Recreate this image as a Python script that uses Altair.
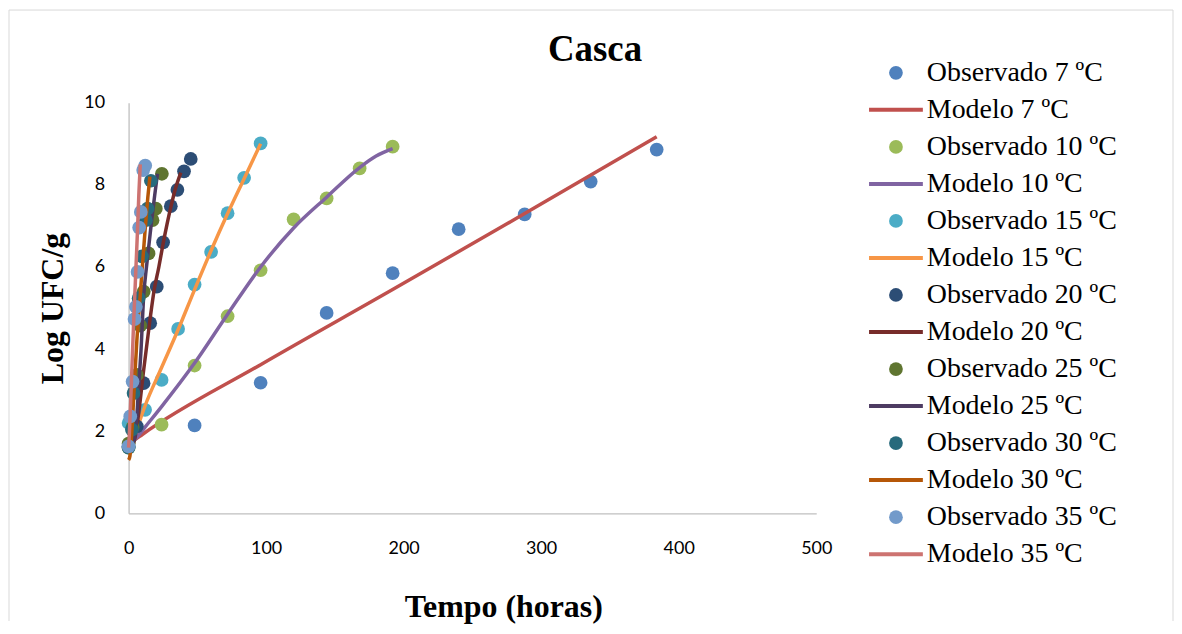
import altair as alt
import pandas as pd

# ---------------- data ----------------
temps = ["7", "10", "15", "20", "25", "30", "35"]

obs7_t = [0, 48, 96, 144, 192, 240, 288, 336, 384]
obs7_y = [1.63, 2.14, 3.18, 4.88, 5.85, 6.92, 7.28, 8.08, 8.86]
mod7_t = [0, 3, 10, 96, 192, 288, 384]
mod7_y = [1.65, 1.75, 1.92, 3.62, 5.45, 7.3, 9.17]

obs10_t = [0, 24, 48, 72, 96, 120, 144, 168, 192]
obs10_y = [1.6, 2.16, 3.6, 4.8, 5.92, 7.16, 7.67, 8.4, 8.93]
mod10_t = [0, 6, 12, 24, 48, 72, 96, 120, 144, 168, 180, 192]
mod10_y = [1.62, 1.85, 2.1, 2.6, 3.66, 4.85, 6.0, 6.95, 7.7, 8.42, 8.7, 8.88]

obs15_t = [0, 12, 24, 36, 48, 60, 72, 84, 96]
obs15_y = [2.2, 2.52, 3.25, 4.49, 5.57, 6.37, 7.31, 8.17, 9.01]
mod15_t = [0, 3, 6, 12, 24, 36, 48, 60, 72, 84, 96]
mod15_y = [1.6, 1.78, 2.05, 2.62, 3.55, 4.47, 5.45, 6.4, 7.3, 8.15, 9.0]

obs20_t = [0, 6, 10.9, 15.7, 20.5, 25.1, 30.7, 35.5, 40.3, 45.2]
obs20_y = [1.62, 2.12, 3.17, 4.63, 5.52, 6.6, 7.48, 7.88, 8.33, 8.63]
mod20_t = [0, 3, 5, 7, 11, 15.5, 18.6, 22, 25, 28, 31, 34, 38]
mod20_y = [1.55, 1.65, 1.9, 2.35, 3.5, 4.7, 5.44, 6.0, 6.55, 7.05, 7.5, 7.9, 8.3]

obs25_t = [0, 3, 6, 8.5, 11, 14.5, 17.4, 19.8, 24.2]
obs25_y = [1.7, 2.1, 3.37, 4.57, 5.4, 6.33, 7.14, 7.42, 8.27]
mod25_t = [0, 3, 5, 7, 9, 11, 13, 15, 17, 19, 21]
mod25_y = [1.6, 1.7, 1.95, 2.9, 3.95, 5.3, 6.0, 6.6, 7.2, 7.75, 8.27]

obs30_t = [0, 2.4, 3.6, 7.3, 9.7, 12.6, 13.8, 16.2]
obs30_y = [1.6, 2.04, 2.93, 5.24, 6.26, 7.14, 7.42, 8.1]
mod30_t = [0, 1, 2, 4, 6, 8, 10, 12, 14, 15.5]
mod30_y = [1.3, 1.4, 1.8, 3.0, 4.2, 5.1, 6.0, 6.9, 7.7, 8.2]

obs35_t = [0, 1.2, 2.9, 4.3, 5.3, 6.5, 7.7, 8.9, 10.6, 12.1]
obs35_y = [1.63, 2.36, 3.21, 4.73, 5.03, 5.88, 6.96, 7.34, 8.36, 8.47]
mod35_t = [0, 0.5, 1.5, 2.5, 3.5, 4.5, 5.5, 6.5, 7.5, 8.5]
mod35_y = [1.6, 1.9, 2.7, 3.6, 4.5, 5.3, 6.1, 6.9, 7.8, 8.5]

obs_colors = ["#4F81BD", "#9BBB59", "#4BACC6", "#2C4D75", "#5F7530", "#276A7C", "#729ACA"]
mod_colors = ["#C0504D", "#8064A2", "#F79646", "#772C2A", "#4D3B62", "#B65708", "#CD7371"]

x_ticks = [0, 100, 200, 300, 400, 500]
y_ticks = [0, 2, 4, 6, 8, 10]

obs_series = [(obs7_t, obs7_y), (obs10_t, obs10_y), (obs15_t, obs15_y), (obs20_t, obs20_y),
              (obs25_t, obs25_y), (obs30_t, obs30_y), (obs35_t, obs35_y)]
mod_series = [(mod7_t, mod7_y), (mod10_t, mod10_y), (mod15_t, mod15_y), (mod20_t, mod20_y),
              (mod25_t, mod25_y), (mod30_t, mod30_y), (mod35_t, mod35_y)]

labels, colors = [], []
for i, t in enumerate(temps):
    labels += [f"Observado {t} ºC", f"Modelo {t} ºC"]
    colors += [obs_colors[i], mod_colors[i]]

color_scale = alt.Scale(domain=labels, range=colors)
xs = alt.Scale(domain=[0, 500], nice=False, zero=False)
ys = alt.Scale(domain=[0, 10], nice=False, zero=False)

x_enc = alt.X("t:Q", scale=xs, axis=alt.Axis(
    values=x_ticks, title="Tempo (horas)", grid=False, ticks=False, tickSize=0, labelFlush=False,
    labelPadding=26, titleX=376, titleY=94, titleBaseline="middle"))
y_enc = alt.Y("y:Q", scale=ys, axis=alt.Axis(
    values=y_ticks, title="Log UFC/g", grid=False, ticks=False, tickSize=0, labelFlush=False,
    labelPadding=24, titleX=-76, titleY=206, titleBaseline="middle", titleAngle=-90))

layers = []
for i, t in enumerate(temps):
    ot, oy = obs_series[i]
    mt, my = mod_series[i]
    odf = pd.DataFrame({"t": ot, "y": oy, "s": f"Observado {t} ºC"})
    mdf = pd.DataFrame({"t": mt, "y": my, "s": f"Modelo {t} ºC"})
    layers.append(alt.Chart(odf).mark_circle(size=190, opacity=1).encode(
        x=x_enc, y=y_enc, color=alt.Color("s:N", scale=color_scale, legend=None)))
    layers.append(alt.Chart(mdf).mark_line(strokeWidth=3.5, interpolate="monotone").encode(
        x=x_enc, y=y_enc, color=alt.Color("s:N", scale=color_scale, legend=None)))
main = alt.layer(*layers)

# ---------------- custom legend ----------------
leg_df = pd.DataFrame({"row": list(range(len(labels))), "label": labels,
                       "kind": ["obs" if k % 2 == 0 else "mod" for k in range(len(labels))]})
leg_y = alt.Y("row:Q", scale=alt.Scale(domain=[0.8075, 11.897], reverse=True, nice=False, zero=False), axis=None)
leg_c = alt.Color("label:N", scale=color_scale, legend=None)
leg_pts = alt.Chart(leg_df).transform_filter(alt.datum.kind == "obs").mark_circle(size=190, opacity=1).encode(
    x=alt.value(770), y=leg_y, color=leg_c)
leg_lines = alt.Chart(leg_df).transform_filter(alt.datum.kind == "mod").mark_rule(strokeWidth=4).encode(
    x=alt.value(743), x2=alt.value(797), y=leg_y, color=leg_c)
leg_text = alt.Chart(leg_df).mark_text(align="left", baseline="middle", font="Liberation Serif",
                                       fontSize=28, color="black").encode(
    x=alt.value(801), y=leg_y, text="label:N")
legend = alt.layer(leg_pts, leg_lines, leg_text)

# ---------------- chart frame ----------------
fdf = pd.DataFrame({"a": [0]})
frame_top = alt.Chart(fdf).mark_rule(color="#D9D9D9", strokeWidth=1).encode(
    x=alt.value(-120), x2=alt.value(1048), y=alt.value(-93))
frame_left = alt.Chart(fdf).mark_rule(color="#D9D9D9", strokeWidth=1).encode(
    x=alt.value(-120), y=alt.value(-93), y2=alt.value(520))
frame_right = alt.Chart(fdf).mark_rule(color="#D9D9D9", strokeWidth=1).encode(
    x=alt.value(1048), y=alt.value(-93), y2=alt.value(520))
frame = alt.layer(frame_top, frame_left, frame_right)

chart = alt.layer(main, legend, frame).resolve_scale(y="independent").properties(
    width=690, height=412, padding=0, background="white",
    title=alt.TitleParams("Casca", font="Liberation Serif", fontSize=37, fontWeight="bold",
                          anchor="middle", dx=123, offset=-60, color="black"),
).configure_view(stroke=None).configure_axis(
    domainColor="#BFBFBF", domainWidth=1.3,
    labelFont="Lato", labelFontSize=18, labelColor="black",
    titleFont="Liberation Serif", titleFontSize=32, titleFontWeight="bold", titleColor="black",
)

chart.save("out.html", embed_options={"renderer": "svg", "actions": False})
